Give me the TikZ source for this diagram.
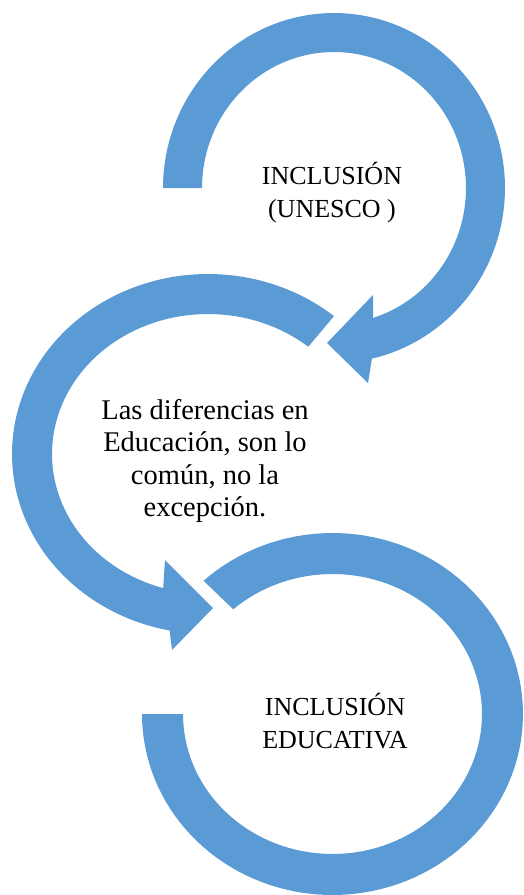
\documentclass[tikz,border=0pt]{standalone}
\usepackage{fontspec}
\setmainfont{Liberation Serif}
\definecolor{arrowblue}{RGB}{91,155,213}
\begin{document}
\begin{tikzpicture}[x=1pt,y=-1pt]
\tikzset{
  ring/.style={fill=arrowblue, draw=none},
  lbl/.style={font=\fontsize{26}{33}\selectfont, align=center, inner sep=0pt, text=black},
  lblbig/.style={lbl, font=\fontsize{28.5}{32.5}\selectfont}
}
\fill[white] (0,0) rectangle (524,895);
\useasboundingbox (0,0) rectangle (524,895);
% top circular arrow
\fill[ring] plot[domain=180:437.2, samples=120, variable=\t] ({334+171*cos(\t)},{188+175*sin(\t)})
  -- (368,383) -- (327,343) -- (373,295)
  -- plot[domain=432.8:180, samples=120, variable=\t] ({334+132*cos(\t)},{188+136*sin(\t)}) -- cycle;
% middle circular arrow
\fill[ring] plot[domain=-50:-258.7, samples=120, variable=\t] ({208+196*cos(\t)},{454+180*sin(\t)})
  -- (172,650) -- (213,608) -- (165,560)
  -- plot[domain=-253.3:-50, samples=120, variable=\t] ({208+156*cos(\t)},{454+140*sin(\t)}) -- cycle;
% bottom circular arc
\fill[ring] plot[domain=227.4:540, samples=120, variable=\t] ({332.5+190.5*cos(\t)},{714+181*sin(\t)})
  -- plot[domain=540:228.4, samples=120, variable=\t] ({332.5+149.5*cos(\t)},{714+140*sin(\t)}) -- cycle;
\node[lbl] (t1) at (332,193) {INCLUSIÓN\\(UNESCO )};
\node[lblbig] (t2) at (205,461) {Las diferencias en\\Educación, son lo\\común, no la\\excepción.};
\node[lbl] (t3) at (335,721) {INCLUSIÓN\\EDUCATIVA};
\end{tikzpicture}
\end{document}
